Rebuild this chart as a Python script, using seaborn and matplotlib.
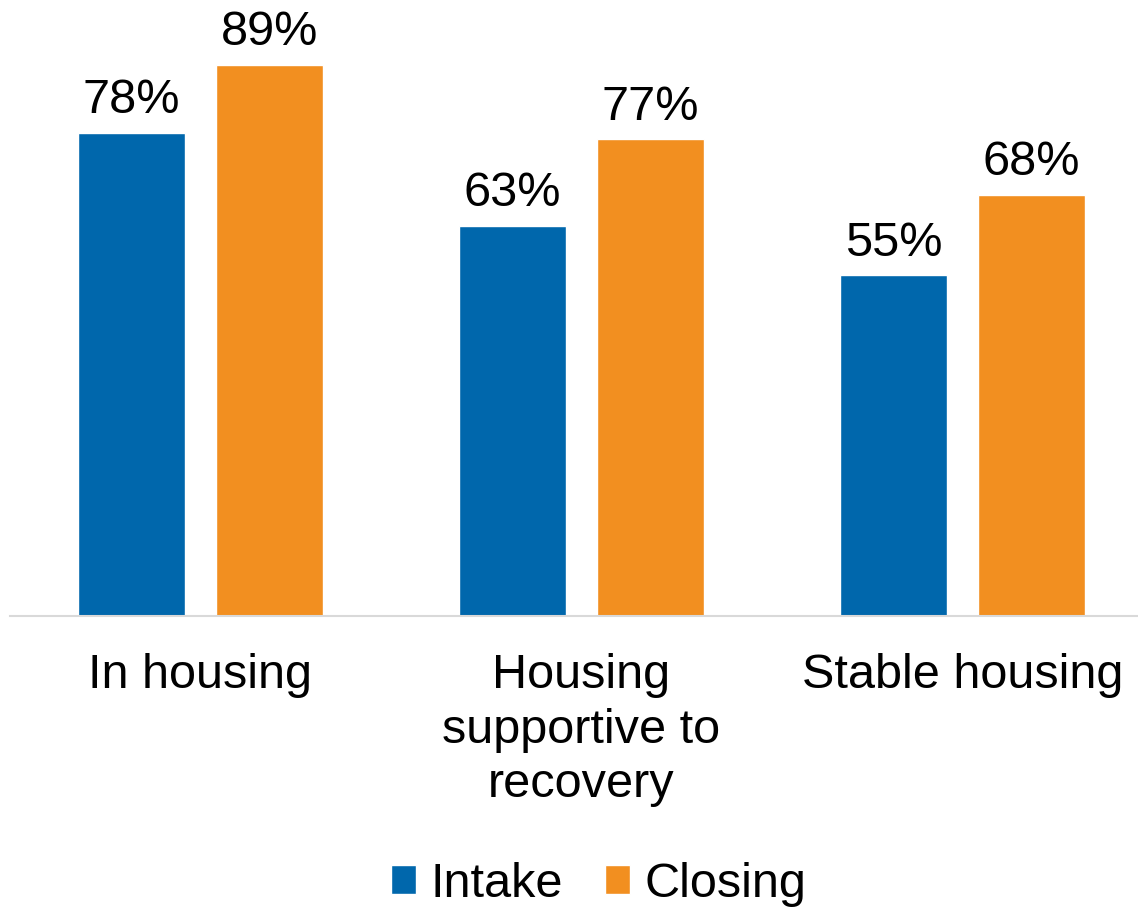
import matplotlib
matplotlib.use("Agg")
import matplotlib.pyplot as plt
import seaborn as sns
import pandas as pd

categories = ["In housing", "Housing\nsupportive to\nrecovery", "Stable housing"]
intake = [78, 63, 55]
closing = [89, 77, 68]
series = ["Intake", "Closing"]
colors = ["#0067AC", "#F28F20"]

df = pd.DataFrame({
    "category": categories * 2,
    "value": intake + closing,
    "series": [series[0]] * len(categories) + [series[1]] * len(categories),
})

sns.set_theme(style="white")
plt.rcParams["font.family"] = ["Liberation Sans", "DejaVu Sans"]
plt.rcParams["text.color"] = "black"

FS = 35

fig = plt.figure(figsize=(11.38, 9.08), dpi=100)
ax = fig.add_axes([10 / 1138, 292 / 908, 1143 / 1138, 616 / 908])

sns.barplot(data=df, x="category", y="value", hue="series",
            palette=colors, width=0.724, gap=0.224, saturation=1,
            ax=ax, errorbar=None)

for cont in ax.containers:
    ax.bar_label(cont, fmt="{:.0f}%", padding=7, fontsize=FS, color="black")

ax.set_xlim(-0.5, 2.5)
ax.set_ylim(0, 99.5)
ax.set_xlabel("")
ax.set_ylabel("")
ax.set_yticks([])
ax.tick_params(axis="x", length=0, pad=27, labelsize=FS, labelcolor="black")
for lbl in ax.get_xticklabels():
    lbl.set_linespacing(1.27)
for side in ["top", "left", "right"]:
    ax.spines[side].set_visible(False)
ax.spines["bottom"].set_color("#D9D9D9")
ax.spines["bottom"].set_linewidth(1.5)

sns.move_legend(ax, "center", bbox_to_anchor=(0.526, 0.026),
                bbox_transform=fig.transFigure, ncol=2, frameon=False,
                title=None, fontsize=FS, handlelength=0.52, handleheight=0.52,
                handletextpad=0.3, columnspacing=0.85, borderpad=0,
                labelcolor="black")

fig.savefig("out.png", dpi=100)
